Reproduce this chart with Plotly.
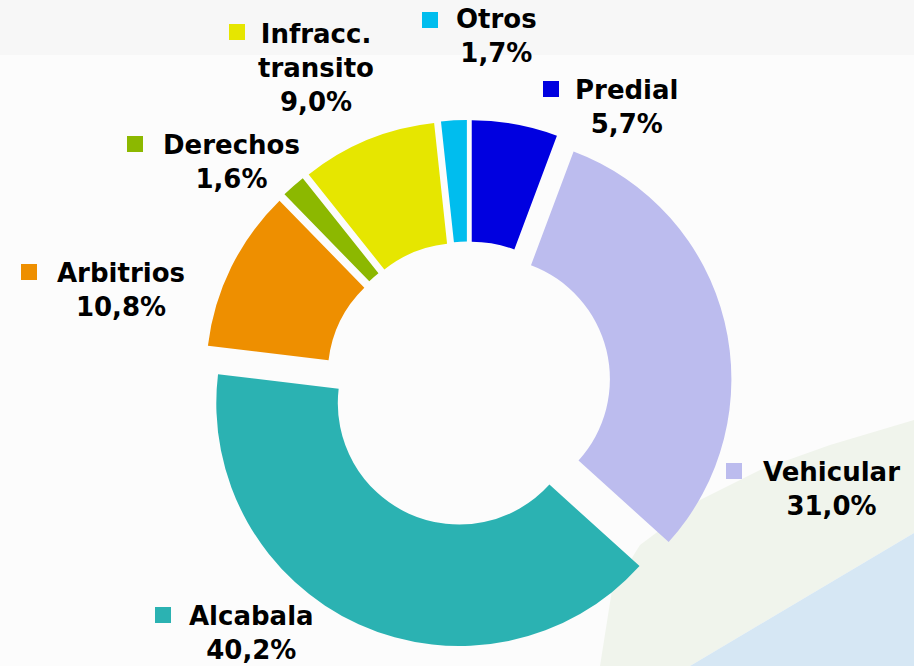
import plotly.graph_objects as go

# ---- data ----
labels = ["Predial", "Vehicular", "Alcabala", "Arbitrios", "Derechos", "Infracc.\ntransito", "Otros"]
values = [5.7, 31.0, 40.2, 10.8, 1.6, 9.0, 1.7]
colors = ["#0000E0", "#BCBCEE", "#2BB2B2", "#EE8F00", "#8CB800", "#E6E600", "#00BDEE"]

# ---- layout constants (pixels) ----
W, H = 914, 666
cx, cy = 468, 384          # pie centre
r_out = 243                # outer radius
pull_px = 21
pull = pull_px / r_out
half = r_out * (1 + pull)  # half size of pie box

# label text centres and legend-key centres (pixel coordinates)
text_pos = [(627, 107), (831, 489), (251, 633), (121, 290), (231, 162), (316, 68), (496, 36)]
key_pos = [(551, 89), (734, 471), (163, 615), (29, 272), (135, 144), (237, 32), (430, 20)]

def fmt(v):
    return f"{v:.1f}".replace(".", ",") + "%"

fig = go.Figure()

fig.add_trace(go.Pie(
    labels=[l.replace("\n", " ") for l in labels],
    values=values,
    marker=dict(colors=colors, line=dict(width=0)),
    hole=0.5,
    sort=False,
    direction="clockwise",
    rotation=0,
    pull=[pull] * len(values),
    textinfo="none",
    hoverinfo="label+percent",
    showlegend=False,
    domain=dict(x=[(cx - half) / W, (cx + half) / W],
                y=[1 - (cy + half) / H, 1 - (cy - half) / H]),
))

# legend keys next to labels
fig.add_trace(go.Scatter(
    x=[p[0] for p in key_pos], y=[p[1] for p in key_pos],
    mode="markers",
    marker=dict(symbol="square", size=16, color=colors, line=dict(width=0)),
    hoverinfo="skip", showlegend=False,
))

annotations = []
for lab, v, (tx, ty) in zip(labels, values, text_pos):
    annotations.append(dict(
        x=tx, y=ty, xref="x", yref="y",
        text="<b>" + lab.replace("\n", "<br>") + "<br>" + fmt(v) + "</b>",
        showarrow=False, xanchor="center", yanchor="middle", align="center",
        font=dict(family="DejaVu Sans", size=26, color="black"),
    ))

shapes = [
    dict(type="rect", xref="x", yref="y", x0=0, y0=0, x1=W, y1=55,
         fillcolor="#F7F7F7", line=dict(width=0), layer="below"),
    dict(type="path", xref="x", yref="y",
         path="M 600,666 L 612,590 L 640,545 L 700,500 L 760,470 L 830,445 L 914,420 L 914,533 L 690,666 Z",
         fillcolor="#F0F4EC", line=dict(width=0), layer="below"),
    dict(type="path", xref="x", yref="y",
         path="M 690,666 L 914,533 L 914,666 Z",
         fillcolor="#D6E7F4", line=dict(width=0), layer="below"),
]

fig.update_layout(
    width=W, height=H,
    margin=dict(l=0, r=0, t=0, b=0),
    paper_bgcolor="#FCFCFC",
    plot_bgcolor="rgba(0,0,0,0)",
    xaxis=dict(range=[0, W], visible=False, fixedrange=True, domain=[0, 1]),
    yaxis=dict(range=[H, 0], visible=False, fixedrange=True, domain=[0, 1]),
    annotations=annotations,
    shapes=shapes,
)

fig.write_html(
    "out.html",
    config={"displayModeBar": False},
    post_script="document.body.style.margin='0';document.body.style.overflow='hidden';",
)
